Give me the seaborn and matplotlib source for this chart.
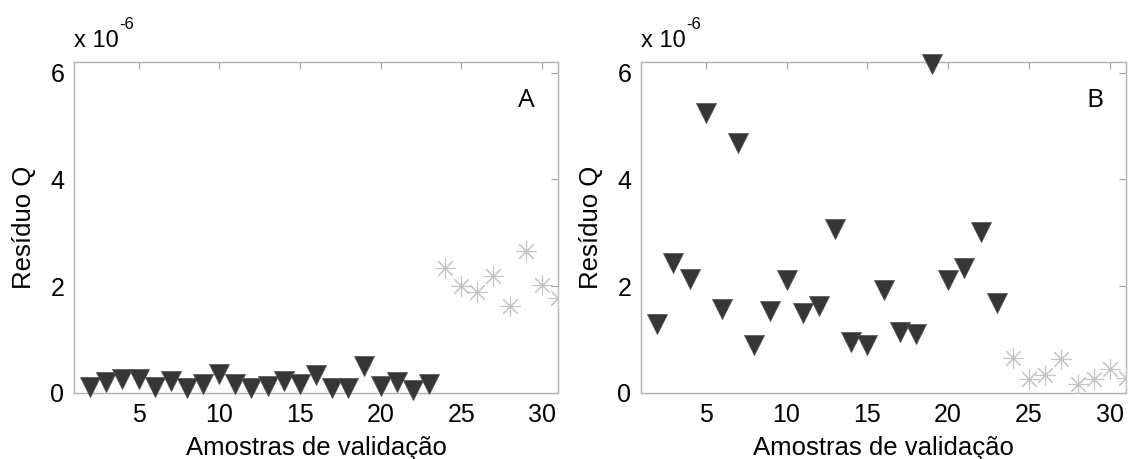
import matplotlib
matplotlib.use("Agg")
import matplotlib.pyplot as plt
import seaborn as sns
import pandas as pd

# ---- data (values in units of 1e-6) ----
cal_x = list(range(2, 24))
val_x = list(range(24, 32))

a_tri = [0.11, 0.20, 0.26, 0.27, 0.11, 0.23, 0.10, 0.17, 0.36, 0.17, 0.10,
         0.14, 0.22, 0.17, 0.33, 0.10, 0.10, 0.51, 0.13, 0.20, 0.06, 0.16]
a_star = [2.34, 2.00, 1.89, 2.20, 1.63, 2.66, 2.03, 1.78]

b_tri = [1.30, 2.43, 2.13, 5.25, 1.57, 4.69, 0.90, 1.54, 2.12, 1.50, 1.63,
         3.08, 0.96, 0.90, 1.92, 1.15, 1.11, 6.16, 2.12, 2.34, 3.02, 1.69]
b_star = [0.66, 0.26, 0.34, 0.64, 0.17, 0.26, 0.45, 0.28]

panel_letters = ["A", "B"]
xticks = [5, 10, 15, 20, 25, 30]
yticks = [0, 2, 4, 6]
xlabel = "Amostras de validação"
ylabel = "Resíduo Q"

sns.set_style("white")
plt.rcParams["font.family"] = ["Liberation Sans", "DejaVu Sans"]

fig = plt.figure(figsize=(11.28, 4.59), dpi=100)
W, H = 1128, 459
axA = fig.add_axes([74 / W, 1 - 393 / H, (558 - 74) / W, (393 - 62) / H])
axB = fig.add_axes([641 / W, 1 - 393 / H, (1126 - 641) / W, (393 - 62) / H])

tri_color = "#363636"
star_color = "#c4c4c4"

for ax, tri, star, letter in [(axA, a_tri, a_star, panel_letters[0]),
                              (axB, b_tri, b_star, panel_letters[1])]:
    df_t = pd.DataFrame({"x": cal_x, "y": tri})
    df_s = pd.DataFrame({"x": val_x, "y": star})
    sns.scatterplot(data=df_s, x="x", y="y", ax=ax, marker=(8, 2, 0), s=190,
                    color=star_color, linewidth=0.8, zorder=3)
    sns.scatterplot(data=df_t, x="x", y="y", ax=ax, marker="v", s=210,
                    color=tri_color, edgecolor="#555555", linewidth=0.5,
                    zorder=4, clip_on=False)
    ax.set_xlim(1, 31)
    ax.set_ylim(0, 6.2)
    ax.set_xticks(xticks)
    ax.set_yticks(yticks)
    ax.tick_params(direction="in", top=True, right=True, length=5,
                   width=0.8, color="#a0a0a0", labelsize=18, pad=7,
                   labelcolor="#000000")
    for sp in ax.spines.values():
        sp.set_visible(True)
        sp.set_color("#b0b0b0")
        sp.set_linewidth(1.0)
    ax.set_xlabel(xlabel, fontsize=18.5, labelpad=7, color="#000000")
    ax.set_ylabel(ylabel, fontsize=18.5, labelpad=10, color="#000000")
    ax.text(0.0, 1.03, "x 10", transform=ax.transAxes,
            fontsize=17, ha="left", va="bottom", color="#000000")
    ax.text(0.093, 1.09, "-6", transform=ax.transAxes,
            fontsize=12, ha="left", va="bottom", color="#000000")
    ax.text(0.935, 0.885, letter, transform=ax.transAxes, fontsize=19,
            ha="center", va="center", family=["Open Sans", "DejaVu Sans"],
            color="#000000")

fig.savefig("out.png", dpi=100)
